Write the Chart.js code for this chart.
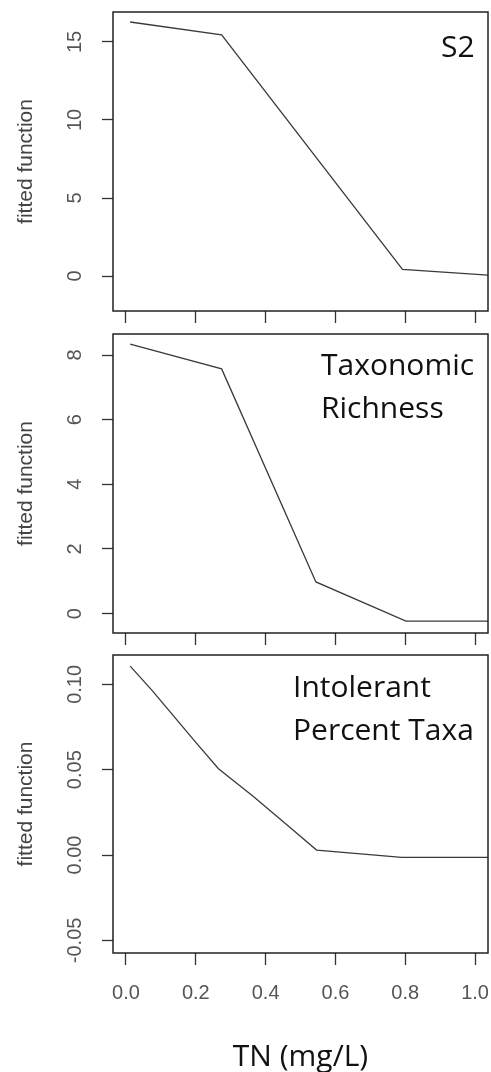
<!DOCTYPE html>
<html>
<head>
<meta charset="utf-8">
<script src="https://cdn.jsdelivr.net/npm/chart.js@4.4.1/dist/chart.umd.min.js"></script>
<style>
html,body{margin:0;padding:0;background:#fff;width:491px;height:1072px;overflow:hidden}
canvas{position:absolute;left:0;top:0}
</style>
</head>
<body>
<canvas id="c1" width="491" height="1072"></canvas>
<canvas id="c2" width="491" height="1072"></canvas>
<canvas id="c3" width="491" height="1072"></canvas>
<script>
// ---- data ----
const xTickValues = [0, 0.2, 0.4, 0.6, 0.8, 1.0];
const xTickLabels = ["0.0", "0.2", "0.4", "0.6", "0.8", "1.0"];
const xAxisTitle = "TN (mg/L)";
const yAxisTitle = "fitted function";

const s2TN  = [0.012, 0.274, 0.792, 1.04];
const s2Fit = [16.28, 15.45, 0.42, 0.05];
const s2YTicks  = [0, 5, 10, 15];
const s2YLabels = ["0", "5", "10", "15"];
const s2Title = ["S2"];

const richTN  = [0.012, 0.274, 0.544, 0.802, 1.04];
const richFit = [8.34, 7.57, 0.98, -0.23, -0.23];
const richYTicks  = [0, 2, 4, 6, 8];
const richYLabels = ["0", "2", "4", "6", "8"];
const richTitle = ["Taxonomic", "Richness"];

const intolTN  = [0.012, 0.074, 0.203, 0.265, 0.365, 0.47, 0.546, 0.79, 1.04];
const intolFit = [0.1107, 0.0966, 0.0653, 0.0506, 0.0343, 0.0162, 0.0029, -0.0014, -0.0014];
const intolYTicks  = [-0.05, 0, 0.05, 0.10];
const intolYLabels = ["-0.05", "0.00", "0.05", "0.10"];
const intolTitle = ["Intolerant", "Percent Taxa"];

// ---- helpers ----
const TICK_FONT = {family: "'Liberation Sans', Arial, sans-serif", size: 20};
const TITLE_FAMILY = "'Open Sans', sans-serif";
const measureCtx = document.createElement('canvas').getContext('2d');
function widest(labels) {
  measureCtx.font = "20px 'Liberation Sans', Arial, sans-serif";
  return Math.max(...labels.map(l => measureCtx.measureText(l).width));
}

const boxPlugin = {
  id: 'box',
  afterDatasetsDraw(chart) {
    const {ctx, chartArea: a} = chart;
    ctx.save();
    ctx.strokeStyle = '#222';
    ctx.lineWidth = 1.5;
    ctx.strokeRect(a.left, a.top, a.right - a.left, a.bottom - a.top);
    ctx.restore();
  }
};
const panelTextPlugin = {
  id: 'panelText',
  afterDraw(chart, args, opts) {
    const ctx = chart.ctx;
    ctx.save();
    ctx.font = "30px " + TITLE_FAMILY;
    ctx.fillStyle = '#111';
    ctx.textAlign = 'left';
    ctx.textBaseline = 'alphabetic';
    (opts.lines || []).forEach((t, i) => ctx.fillText(t, opts.x, opts.y + i * opts.lh));
    ctx.restore();
  }
};

function buildPanel(id, o) {
  const yPad = 27 - widest(o.yLabels) / 2;
  return new Chart(document.getElementById(id), {
    type: 'line',
    data: {
      datasets: [{
        data: o.tn.map((x, i) => ({x: x, y: o.fit[i]})),
        borderColor: '#3a3a3a',
        borderWidth: 1.3,
        pointRadius: 0,
        fill: false,
        tension: 0
      }]
    },
    options: {
      responsive: false,
      animation: false,
      devicePixelRatio: 1,
      layout: {padding: {top: o.top, right: 3, left: 0, bottom: 0}},
      plugins: {
        legend: {display: false},
        tooltip: {enabled: false},
        panelText: {lines: o.title, x: o.tx, y: o.ty, lh: 43}
      },
      scales: {
        x: {
          type: 'linear',
          min: -0.0372,
          max: 1.037,
          afterBuildTicks: s => { s.ticks = xTickValues.map(v => ({value: v})); },
          afterFit: s => { s.height = 1072 - o.bottom; s.paddingLeft = 0; s.paddingRight = 0; },
          grid: {display: true, drawOnChartArea: false, drawTicks: true, tickLength: 12, tickColor: '#333', tickWidth: 1.3},
          border: {display: false},
          ticks: {
            display: o.showX, autoSkip: false, maxRotation: 0, minRotation: 0,
            padding: 16, color: '#555', font: TICK_FONT,
            callback: (v, i) => xTickLabels[i]
          },
          title: {
            display: o.showX, text: xAxisTitle, color: '#111',
            font: {family: TITLE_FAMILY, size: 30, lineHeight: 1},
            padding: {top: 0, bottom: 0}
          }
        },
        y: {
          type: 'linear',
          min: o.ymin,
          max: o.ymax,
          afterBuildTicks: s => { s.ticks = o.yTicks.map(v => ({value: v})); },
          afterFit: s => { s.width = 113; s.paddingTop = 0; s.paddingBottom = 0; },
          grid: {display: true, drawOnChartArea: false, drawTicks: true, tickLength: 11, tickColor: '#333', tickWidth: 1.3},
          border: {display: false},
          ticks: {
            autoSkip: false, minRotation: 90, maxRotation: 90, crossAlign: 'center',
            padding: yPad, color: '#555', font: TICK_FONT,
            callback: (v, i) => o.yLabels[i]
          },
          title: {
            display: true, text: yAxisTitle, color: '#444',
            font: {family: "'Liberation Sans', Arial, sans-serif", size: 21, lineHeight: 1.2},
            padding: {top: 13.4, bottom: 0}
          }
        }
      }
    },
    plugins: [boxPlugin, panelTextPlugin]
  });
}

buildPanel('c1', {tn: s2TN, fit: s2Fit, yTicks: s2YTicks, yLabels: s2YLabels, title: s2Title,
  top: 12, bottom: 311, ymin: -2.24, ymax: 16.92, tx: 441, ty: 57, showX: false});
buildPanel('c2', {tn: richTN, fit: richFit, yTicks: richYTicks, yLabels: richYLabels, title: richTitle,
  top: 334, bottom: 633, ymin: -0.60, ymax: 8.65, tx: 321, ty: 375, showX: false});
buildPanel('c3', {tn: intolTN, fit: intolFit, yTicks: intolYTicks, yLabels: intolYLabels, title: intolTitle,
  top: 655, bottom: 953, ymin: -0.0574, ymax: 0.1172, tx: 293, ty: 697, showX: true});
</script>
</body>
</html>
